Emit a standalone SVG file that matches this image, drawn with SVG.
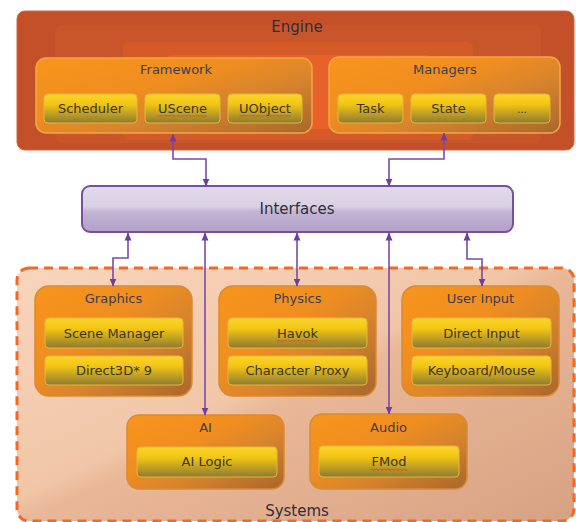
<svg xmlns="http://www.w3.org/2000/svg" width="576" height="522" viewBox="0 0 576 522">
  <defs>
    <style>
      .lbl { font-family: "DejaVu Sans", Verdana, sans-serif; font-size: 13px; fill: #3a3528; text-anchor: middle; }
      .ttl { font-family: "DejaVu Sans", Verdana, sans-serif; font-size: 13px; fill: #3c3d52; text-anchor: middle; }
      .big { font-family: "DejaVu Sans", Verdana, sans-serif; font-size: 15px; fill: #2e2e3a; text-anchor: middle; }
      .group { fill: url(#orangeFill); stroke: #f2a64a; stroke-width: 1.5; }
      .sysbox { fill: url(#orangeFill); stroke: #d98a32; stroke-width: 1.5; }
      .item { fill: url(#yellowFill); stroke: #e3b83a; stroke-width: 1; }
      .shade { fill: #000; opacity: 0.12; }
      .wire { fill: none; stroke: #7b4aa8; stroke-width: 1.6; marker-start: url(#tip); marker-end: url(#tip); }
      .squig { fill: url(#squiggle); }
    </style>
    <linearGradient id="orangeFill" x1="0" y1="0" x2="1" y2="1">
      <stop offset="0" stop-color="#f8951c"/>
      <stop offset="0.4" stop-color="#ef8d20"/>
      <stop offset="0.62" stop-color="#d8842c"/>
      <stop offset="1" stop-color="#a9672c"/>
    </linearGradient>
    <linearGradient id="yellowFill" x1="0" y1="0" x2="0" y2="1">
      <stop offset="0" stop-color="#fbd52a"/>
      <stop offset="0.35" stop-color="#f2c515"/>
      <stop offset="1" stop-color="#8e7a32"/>
    </linearGradient>
    <linearGradient id="ifaceFill" x1="0" y1="0" x2="0" y2="1">
      <stop offset="0" stop-color="#e2dbe9"/>
      <stop offset="0.45" stop-color="#d9d0e3"/>
      <stop offset="0.55" stop-color="#c3b5d5"/>
      <stop offset="1" stop-color="#b2a0c8"/>
    </linearGradient>
    <linearGradient id="sysFill" x1="0" y1="0" x2="1" y2="1">
      <stop offset="0" stop-color="#f8d5bd"/>
      <stop offset="0.45" stop-color="#f1c6a8"/>
      <stop offset="0.5" stop-color="#e9b898"/>
      <stop offset="1" stop-color="#d7a283"/>
    </linearGradient>
    <pattern id="squiggle" width="4" height="3" patternUnits="userSpaceOnUse">
      <path d="M0,0.5 L2,2.5 L4,0.5" fill="none" stroke="#d8342c" stroke-width="0.8"/>
    </pattern>
    <marker id="tip" viewBox="0 0 8 8" refX="7.5" refY="4" markerWidth="8" markerHeight="8" markerUnits="userSpaceOnUse" orient="auto-start-reverse">
      <path d="M0,0.5 L8,4 L0,7.5 Z" fill="#6f3f9f"/>
    </marker>
  </defs>

  <rect width="576" height="522" fill="#ffffff"/>

  <!-- Engine container with its central glow -->
  <g id="engine">
    <rect x="17" y="11" width="557" height="139" rx="8" fill="#c4502a" stroke="#d2653c" stroke-width="1"/>
    <rect x="55" y="25" width="486" height="118" rx="8" fill="#c9562b"/>
    <rect x="123" y="42" width="350" height="98" rx="6" fill="#d45a28"/>
    <rect x="167" y="55" width="262" height="74" rx="4" fill="#e8612a"/>
    <text class="big" x="297" y="32">Engine</text>
  </g>

  <g id="framework">
    <rect class="group" x="36" y="58" width="276" height="75" rx="10"/>
    <text class="ttl" x="176" y="74">Framework</text>
  </g>
  <g id="scheduler">
    <rect class="item" x="44" y="94" width="93" height="29" rx="4"/>
    <text class="lbl" x="90.5" y="113">Scheduler</text>
  </g>
  <g id="uscene">
    <rect class="item" x="145" y="94" width="75" height="29" rx="4"/>
    <text class="lbl" x="182.5" y="113">UScene</text>
    <rect class="squig" x="158" y="115" width="49" height="3"/>
  </g>
  <g id="uobject">
    <rect class="item" x="228" y="94" width="74" height="29" rx="4"/>
    <text class="lbl" x="265" y="113">UObject</text>
    <rect class="squig" x="239" y="115" width="52" height="3"/>
  </g>

  <g id="managers">
    <rect class="group" x="329" y="57" width="231" height="76" rx="10"/>
    <text class="ttl" x="445" y="74">Managers</text>
  </g>
  <g id="task">
    <rect class="item" x="338" y="94" width="65" height="29" rx="4"/>
    <text class="lbl" x="370.5" y="113">Task</text>
  </g>
  <g id="state">
    <rect class="item" x="411" y="94" width="75" height="29" rx="4"/>
    <text class="lbl" x="448.5" y="113">State</text>
  </g>
  <g id="more">
    <rect class="item" x="494" y="94" width="56" height="29" rx="4"/>
    <text class="lbl" x="522" y="113" style="font-size:10px">...</text>
  </g>

  <!-- Interfaces layer -->
  <g id="interfaces">
    <rect x="82" y="186" width="431" height="46" rx="8" fill="url(#ifaceFill)" stroke="#7b4f9f" stroke-width="2"/>
    <text class="big" x="297" y="214">Interfaces</text>
  </g>

  <!-- Systems container -->
  <g id="systems">
    <rect x="17" y="268" width="557" height="253" rx="12" fill="url(#sysFill)" stroke="#f26a21" stroke-width="3" stroke-dasharray="9 6"/>
    <text class="big" x="297" y="516">Systems</text>
  </g>

  <g id="graphics">
    <rect class="sysbox" x="35" y="286" width="157" height="110" rx="14"/>
    <text class="ttl" x="113.5" y="303">Graphics</text>
  </g>
  <g id="scene-manager">
    <rect class="item" x="45" y="318" width="138" height="30" rx="4"/>
    <text class="lbl" x="114" y="338">Scene Manager</text>
  </g>
  <g id="direct3d">
    <rect class="item" x="45" y="356" width="138" height="29" rx="4"/>
    <text class="lbl" x="114" y="375">Direct3D* 9</text>
  </g>

  <g id="physics">
    <rect class="sysbox" x="219" y="286" width="157" height="110" rx="14"/>
    <text class="ttl" x="297.5" y="303">Physics</text>
  </g>
  <g id="havok">
    <rect class="item" x="228" y="318" width="139" height="30" rx="4"/>
    <text class="lbl" x="297.5" y="338">Havok</text>
    <rect class="squig" x="277" y="340" width="41" height="3"/>
  </g>
  <g id="character-proxy">
    <rect class="item" x="228" y="356" width="139" height="29" rx="4"/>
    <text class="lbl" x="297.5" y="375">Character Proxy</text>
  </g>

  <g id="user-input">
    <rect class="sysbox" x="402" y="286" width="157" height="110" rx="14"/>
    <text class="ttl" x="480.5" y="303">User Input</text>
  </g>
  <g id="direct-input">
    <rect class="item" x="412" y="318" width="139" height="30" rx="4"/>
    <text class="lbl" x="481.5" y="338">Direct Input</text>
  </g>
  <g id="keyboard-mouse">
    <rect class="item" x="412" y="356" width="139" height="29" rx="4"/>
    <text class="lbl" x="481.5" y="375">Keyboard/Mouse</text>
  </g>

  <g id="ai">
    <rect class="sysbox" x="127" y="415" width="157" height="74" rx="12"/>
    <text class="ttl" x="205.5" y="432">AI</text>
  </g>
  <g id="ai-logic">
    <rect class="item" x="137" y="447" width="140" height="30" rx="4"/>
    <text class="lbl" x="207" y="466">AI Logic</text>
  </g>

  <g id="audio">
    <rect class="sysbox" x="310" y="414" width="157" height="75" rx="12"/>
    <text class="ttl" x="388.5" y="432">Audio</text>
  </g>
  <g id="fmod">
    <rect class="item" x="319" y="446" width="140" height="31" rx="4"/>
    <text class="lbl" x="389" y="466">FMod</text>
    <rect class="squig" x="371" y="468" width="36" height="3"/>
  </g>

  <!-- Two-way links between the layers -->
  <g id="connectors">
    <path class="wire" d="M173,134 V159 H206 V186"/>
    <path class="wire" d="M444,133 V159 H389 V186"/>
    <path class="wire" d="M128,233 V258 H113 V286"/>
    <path class="wire" d="M205,233 V415"/>
    <path class="wire" d="M297,233 V286"/>
    <path class="wire" d="M389,233 V414"/>
    <path class="wire" d="M467,233 V259 H482 V286"/>
  </g>
</svg>
